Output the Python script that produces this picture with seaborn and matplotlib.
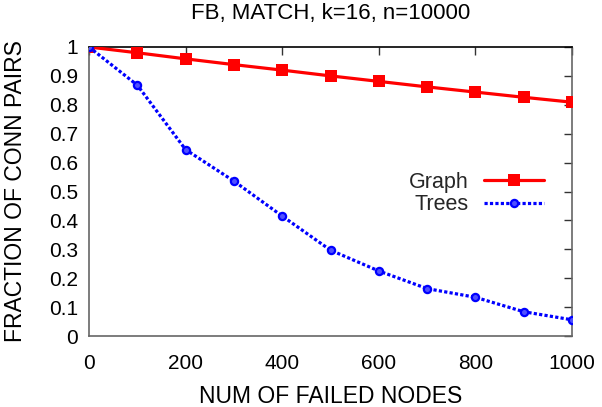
import matplotlib
matplotlib.use("Agg")
import matplotlib.pyplot as plt
import seaborn as sns
import pandas as pd

failed_nodes = [0, 100, 200, 300, 400, 500, 600, 700, 800, 900, 1000]
graph_vals = [1.0, 0.980, 0.959, 0.939, 0.920, 0.900, 0.881, 0.862, 0.844, 0.826, 0.809]
trees_vals = [1.0, 0.868, 0.645, 0.536, 0.415, 0.297, 0.225, 0.164, 0.134, 0.084, 0.056]
x_ticks = [0, 200, 400, 600, 800, 1000]
y_ticks = [0, 0.1, 0.2, 0.3, 0.4, 0.5, 0.6, 0.7, 0.8, 0.9, 1.0]
y_tick_labels = ["0", "0.1", "0.2", "0.3", "0.4", "0.5", "0.6", "0.7", "0.8", "0.9", "1"]

sns.set_theme(style="white")
plt.rcParams['font.family'] = ['Liberation Sans', 'DejaVu Sans']

fig = plt.figure(figsize=(6.02, 4.07), dpi=100)
ax = fig.add_axes([89/602, 1-336/407, (572-89)/602, (336-47)/407])

df_g = pd.DataFrame({"x": failed_nodes, "y": graph_vals})
df_t = pd.DataFrame({"x": failed_nodes, "y": trees_vals})

sns.lineplot(data=df_g, x="x", y="y", ax=ax, color="#ff0000", linewidth=2.3,
             marker="s", markersize=9, markeredgewidth=0, label="Graph", zorder=3)
sns.lineplot(data=df_t, x="x", y="y", ax=ax, color="#0000ff", linewidth=2.3,
             linestyle=(0, (1, 0.7)), marker="o", markersize=5.2,
             markeredgewidth=1.6, markeredgecolor="#0000ff",
             markerfacecolor="#5050ff", label="Trees", zorder=4)

ax.set_xlim(0, 1000)
ax.set_ylim(0, 1)
ax.set_xticks(x_ticks)
ax.set_yticks(y_ticks)
ax.set_yticklabels(y_tick_labels)
ax.tick_params(direction="in", length=6, width=1, colors="#333333",
               top=True, right=True, labelsize=15, labelcolor="black")
ax.tick_params(axis="x", pad=13)
ax.tick_params(axis="y", pad=8)
for name, s in ax.spines.items():
    s.set_color("#000000" if name == "top" else "#666666")
    s.set_linewidth(1.2)
    s.set_visible(True)

ax.set_xlabel("NUM OF FAILED NODES", fontsize=16.5, color="black")
ax.set_ylabel("FRACTION OF CONN PAIRS", fontsize=16.5, color="black")
ax.xaxis.set_label_coords(0.5, (336-385)/289)
ax.yaxis.set_label_coords((27-89)/483, 0.5)
ax.set_title("FB, MATCH, k=16, n=10000", fontsize=16, pad=20, color="black")

leg = ax.legend(loc="upper right", bbox_to_anchor=(544/602, 1-172/407),
                bbox_transform=fig.transFigure, frameon=False, markerfirst=False,
                fontsize=15.5, handlelength=2.8, handletextpad=0.7,
                labelspacing=0.05, borderpad=0, borderaxespad=0)

fig.savefig("out.png", dpi=100)
